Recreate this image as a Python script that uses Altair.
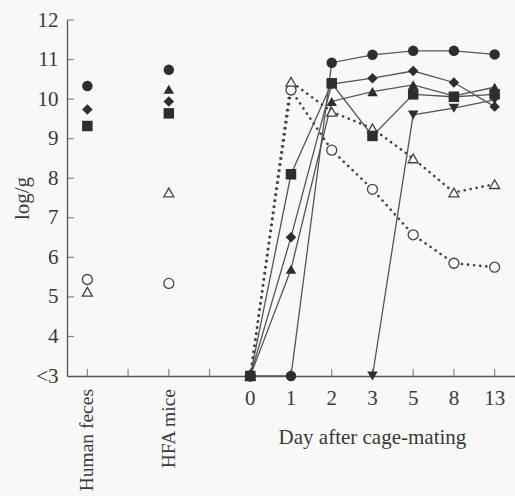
import altair as alt
import pandas as pd

# x positions: 0 Human feces, 2 HFA mice, 4..10 = days 0,1,2,3,5,8,13
cat_pos = [0, 2]
cat_labels = ["Human feces", "HFA mice"]
day_pos = [4, 5, 6, 7, 8, 9, 10]
day_labels = ["0", "1", "2", "3", "5", "8", "13"]
tick_pos = [0, 1, 2, 3, 4, 5, 6, 7, 8, 9, 10]
y_ticks = [3, 4, 5, 6, 7, 8, 9, 10, 11, 12]

# values per position 0..10 (None = no point)
open_circle = [5.44, None, 5.34, None, 3, 10.23, 8.71, 7.72, 6.57, 5.85, 5.75]
open_tri = [5.13, None, 7.64, None, 3, 10.44, 9.68, 9.26, 8.50, 7.64, 7.85]
tri_down = [None, None, None, None, None, None, None, 3, 9.60, 9.77, 9.98]
tri_up = [None, None, 10.25, None, 3, 5.70, 9.94, 10.19, 10.36, 10.08, 10.30]
diamond = [9.74, None, 9.94, None, 3, 6.51, 10.38, 10.53, 10.71, 10.42, 9.81]
f_circle = [10.33, None, 10.74, None, 3, 3, 10.92, 11.12, 11.22, 11.22, 11.13]
f_square = [9.32, None, 9.64, None, 3, 8.10, 10.40, 9.07, 10.12, 10.06, 10.12]

series = [
    ("open_circle", open_circle, "circle", False),
    ("open_tri", open_tri, "triangle-up", False),
    ("tri_down", tri_down, "triangle-down", True),
    ("tri_up", tri_up, "triangle-up", True),
    ("diamond", diamond, "diamond", True),
    ("f_circle", f_circle, "circle", True),
    ("f_square", f_square, "square", True),
]

rows = []
for order, (name, vals, shape, filled) in enumerate(series):
    for p, v in zip(tick_pos, vals):
        if v is not None:
            rows.append({"series": name, "pos": p, "value": v, "filled": filled,
                         "ord": order})
df = pd.DataFrame(rows)

names = [s[0] for s in series]
shapes = [s[2] for s in series]

BG = "#f8f8f7"
INK = "#3a3a3a"
FONT = "Liberation Serif"
FS = 21

xs = alt.Scale(domain=[-0.5, 10.5], nice=False, zero=False)
ys = alt.Scale(domain=[3, 12], nice=False, zero=False)

XA = alt.Axis(labels=False, ticks=False, title=None, grid=False,
              domainColor="#555", domainWidth=1.3)
YA = alt.Axis(values=y_ticks, ticks=False, grid=False, title="log/g",
              labelExpr="datum.value == 3 ? '<3' : datum.label",
              labelOverlap=False, labelBound=False, labelFlush=False,
              labelFont=FONT, labelFontSize=FS, labelColor=INK,
              labelPadding=9, titleFont=FONT, titleFontSize=21,
              titleFontWeight="normal", titleColor=INK,
              titlePadding=3, domainColor="#555", domainWidth=1.3)

Xf = lambda f: alt.X(f, scale=xs, axis=XA)
Yf = lambda f: alt.Y(f, scale=ys, axis=YA)
Xd = lambda v: alt.XDatum(v, scale=xs, axis=XA)
Yd = lambda v: alt.YDatum(v, scale=ys, axis=YA)

base = alt.Chart(df)

solid = base.transform_filter("datum.filled && datum.pos >= 4").mark_line(
    color="#555", strokeWidth=1.3).encode(
    x=Xf("pos:Q"), y=Yf("value:Q"), detail="series:N", order="pos:Q")

dotted = base.transform_filter("!datum.filled && datum.pos >= 4").mark_line(
    color="#444", strokeWidth=2.6, strokeDash=[0.1, 6], strokeCap="round").encode(
    x=Xf("pos:Q"), y=Yf("value:Q"), detail="series:N", order="pos:Q")

shape_enc = alt.Shape("series:N", scale=alt.Scale(domain=names, range=shapes),
                      legend=None)

open_pts = base.transform_filter("!datum.filled").mark_point(
    filled=False, fill=BG, fillOpacity=1, size=100, strokeWidth=1.3,
    color="#444", opacity=1).encode(x=Xf("pos:Q"), y=Yf("value:Q"), shape=shape_enc)

filled_pts = base.transform_filter("datum.filled").mark_point(
    filled=True, size=110, color="#2e2e2e", opacity=1).encode(
    x=Xf("pos:Q"), y=Yf("value:Q"), shape=shape_enc, order="ord:Q")

xt = alt.Chart(pd.DataFrame({"pos": tick_pos})).mark_tick(
    orient="vertical", size=7, thickness=1.2, color="#555", yOffset=-3.5).encode(
    x=Xf("pos:Q"), y=Yd(3))

yt = alt.Chart(pd.DataFrame({"value": y_ticks[1:]})).mark_tick(
    orient="horizontal", size=7, thickness=1.2, color="#555", xOffset=3.5).encode(
    x=Xd(-0.5), y=Yf("value:Q"))

cat_txt = alt.Chart(pd.DataFrame({"pos": cat_pos, "label": cat_labels})).mark_text(
    angle=270, align="right", baseline="middle", font=FONT, fontSize=19.5,
    color=INK, yOffset=13).encode(
    x=Xf("pos:Q"), y=Yd(3), text="label:N")

day_txt = alt.Chart(pd.DataFrame({"pos": day_pos, "label": day_labels})).mark_text(
    baseline="top", align="center", font=FONT, fontSize=FS, color=INK,
    yOffset=12).encode(
    x=Xf("pos:Q"), y=Yd(3), text="label:N")

title_txt = alt.Chart(pd.DataFrame({"t": ["Day after cage-mating"]})).mark_text(
    baseline="middle", align="center", font=FONT, fontSize=FS, color=INK,
    yOffset=62).encode(
    x=Xd(7), y=Yd(3), text="t:N")

chart = alt.layer(solid, dotted, xt, yt, open_pts, filled_pts, cat_txt, day_txt,
                  title_txt).properties(
    width=448, height=356,
    autosize=alt.AutoSizeParams(type="none"),
    padding={"left": 67, "top": 20, "right": 0, "bottom": 120},
    background=BG,
).configure_view(stroke=None)

chart.save("out.html", embed_options={"renderer": "svg", "actions": False})
